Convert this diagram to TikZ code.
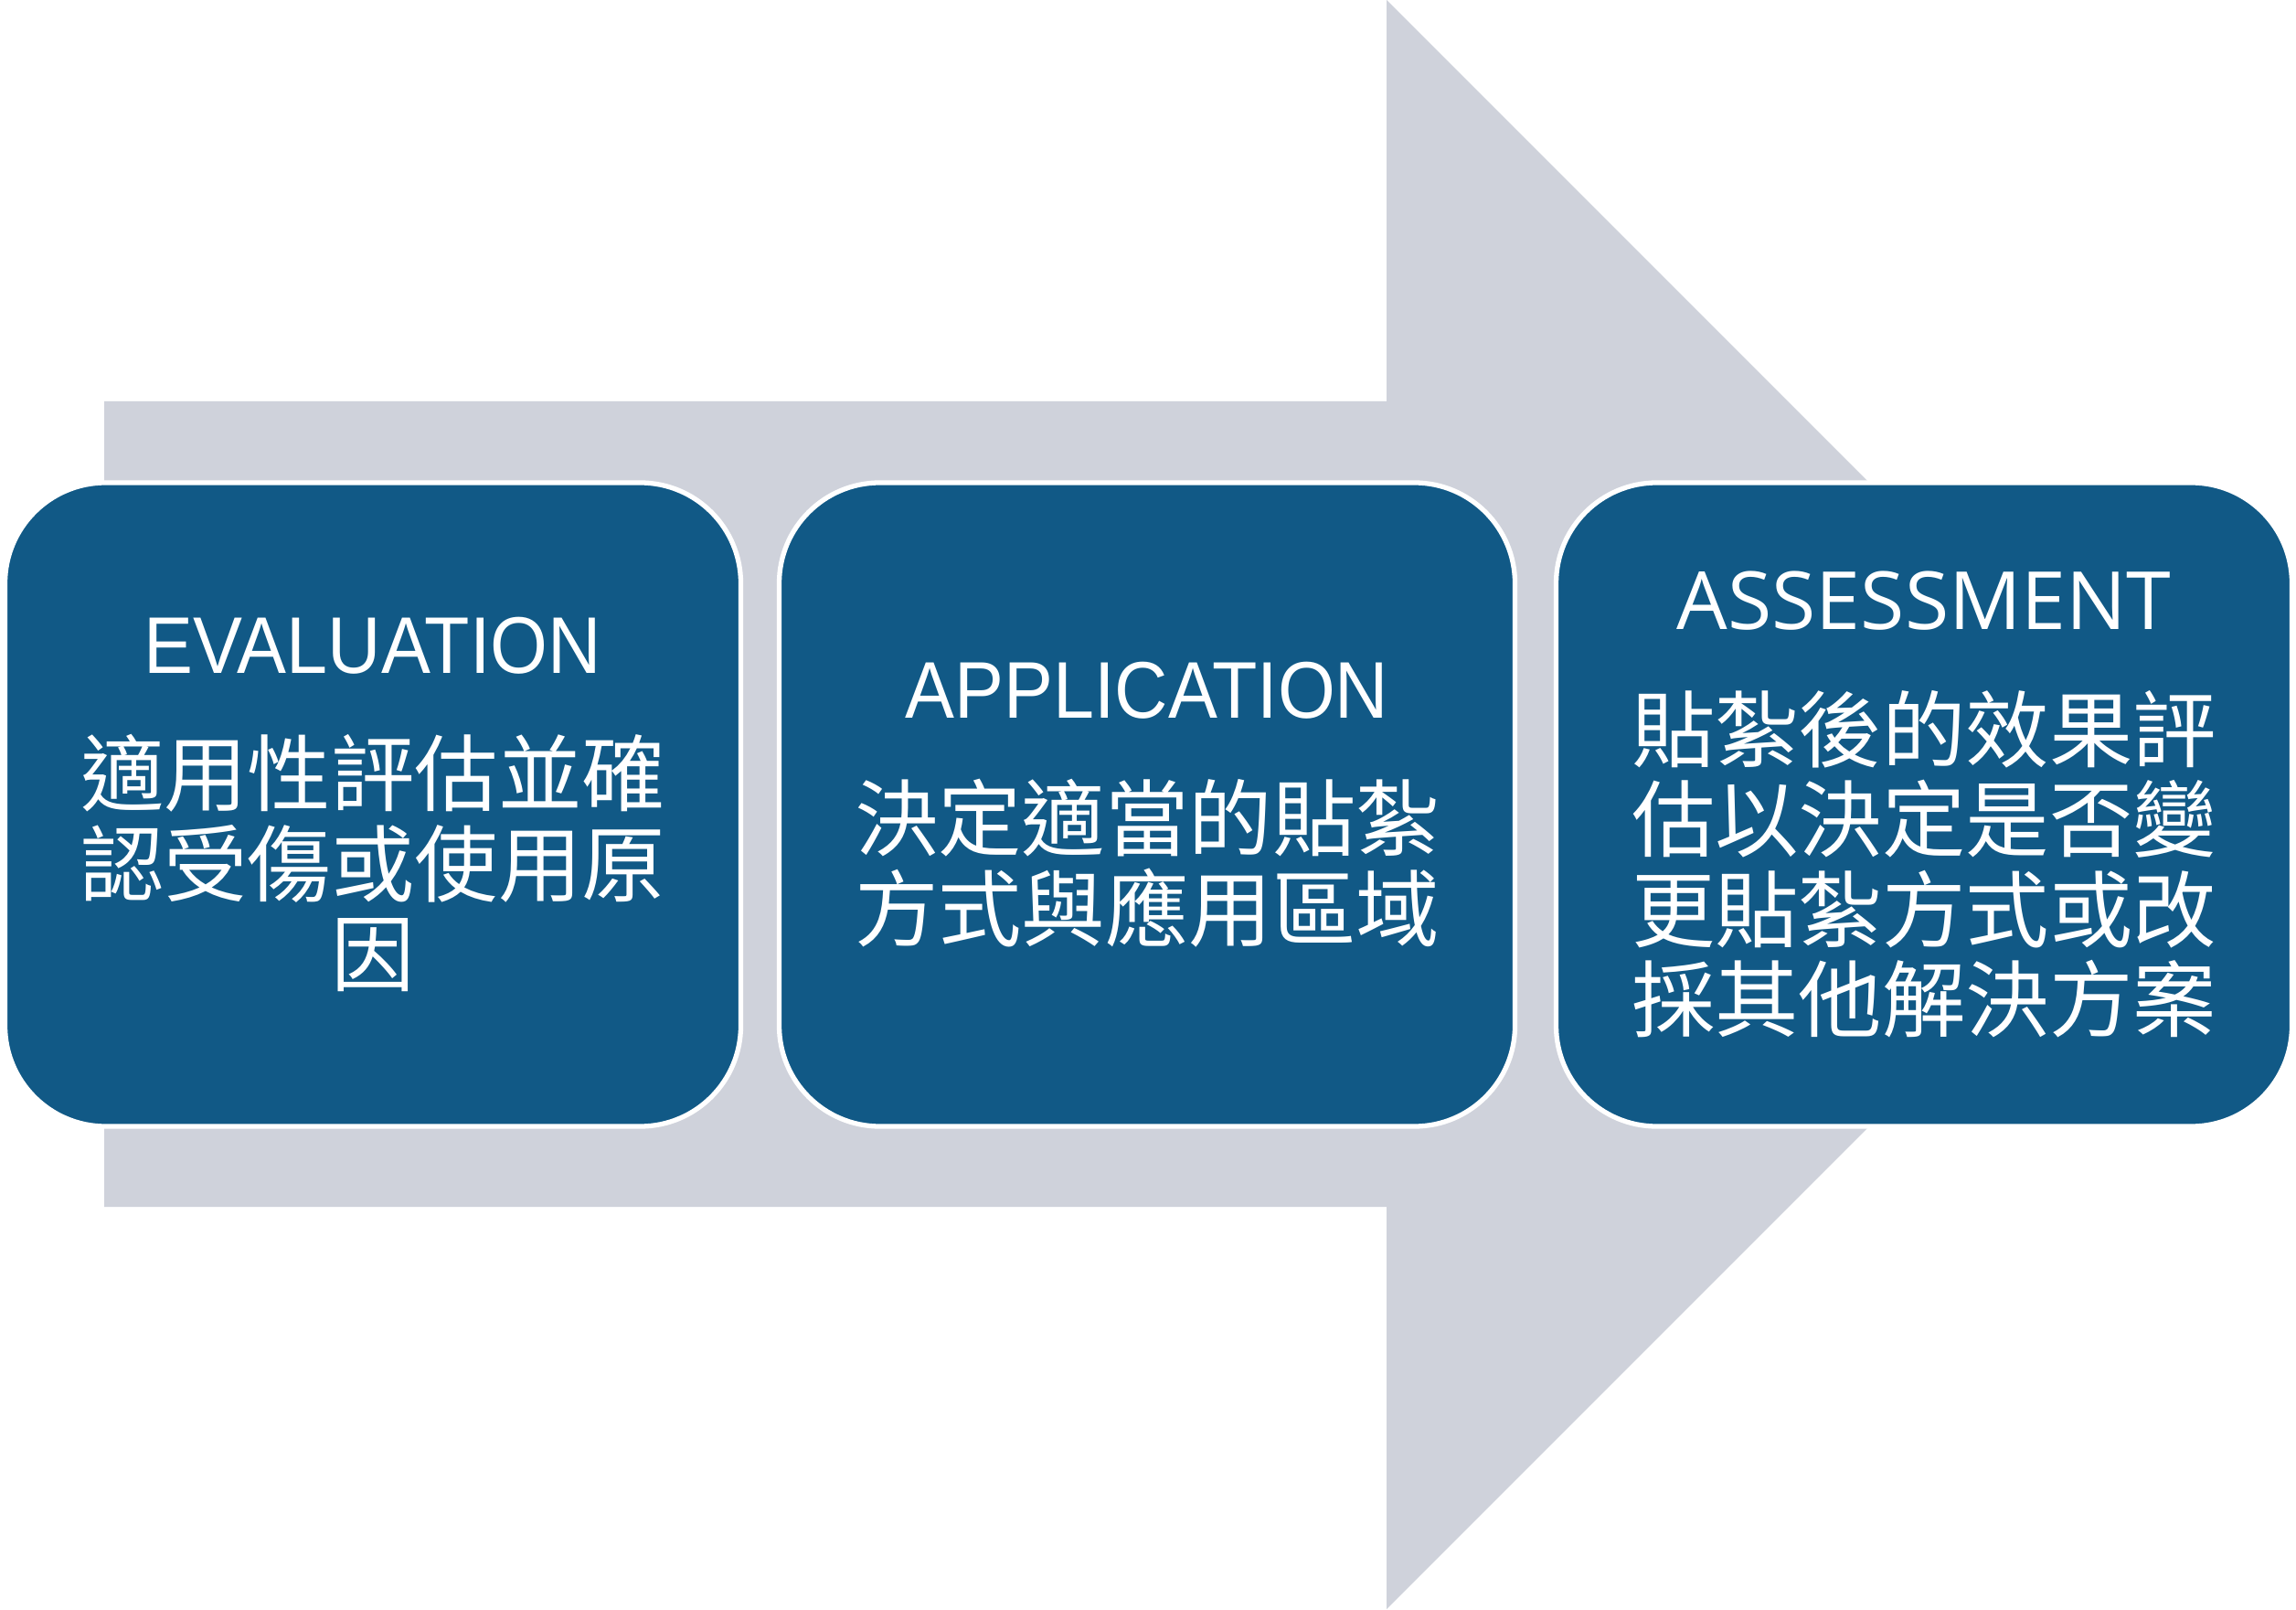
\documentclass[tikz,border=0pt]{standalone}
\usepackage{fontspec}
\usepackage{tikz}
\newfontfamily\cjkfont{Noto Sans CJK TC}
\newfontfamily\latfont[FakeStretch=0.92]{Liberation Sans}
\newfontfamily\latfontb{Open Sans}
\definecolor{stageblue}{RGB}{17,89,134}
\definecolor{arrowgray}{RGB}{207,210,219}
\tikzset{stage/.style={rectangle,rounded corners=1.1cm,draw=white,line width=1.5pt,
fill=stageblue,text=white,minimum width=8.05cm,minimum height=7.04cm,inner sep=0pt,
align=center,font=\cjkfont\fontsize{26}{28}\selectfont}}

\begin{document}
\begin{tikzpicture}
\useasboundingbox (0,0) rectangle (25.12,17.6);
\fill[white] (0,0) rectangle (25.12,17.6);
% grey arrow behind
\fill[arrowgray] (1.14,4.40) -- (15.17,4.40) -- (15.17,0) -- (23.97,8.8)
-- (15.17,17.6) -- (15.17,13.21) -- (1.14,13.21) -- cycle;
\node[stage] (eval) at (4.08,8.8) {{\latfont\fontsize{25}{28}\selectfont
EVALUATION}\\[13pt]適用性評估並確\\認受傷或使用原\\因};
\node[stage] (appl) at (12.55,8.8) {{\latfont\fontsize{25}{28}\selectfont
APPLICATION}\\[13pt]決定適當的貼紮\\方式與應用區域};
\node[stage] (assess) at (21.05,8.8) {{\latfontb\fontsize{25}{28}\selectfont
ASSESSMENT}\\[13pt]貼紮後的效果評\\估以決定是否變\\更貼紮方式或改\\採其他解決方案};
\end{tikzpicture}
\end{document}
